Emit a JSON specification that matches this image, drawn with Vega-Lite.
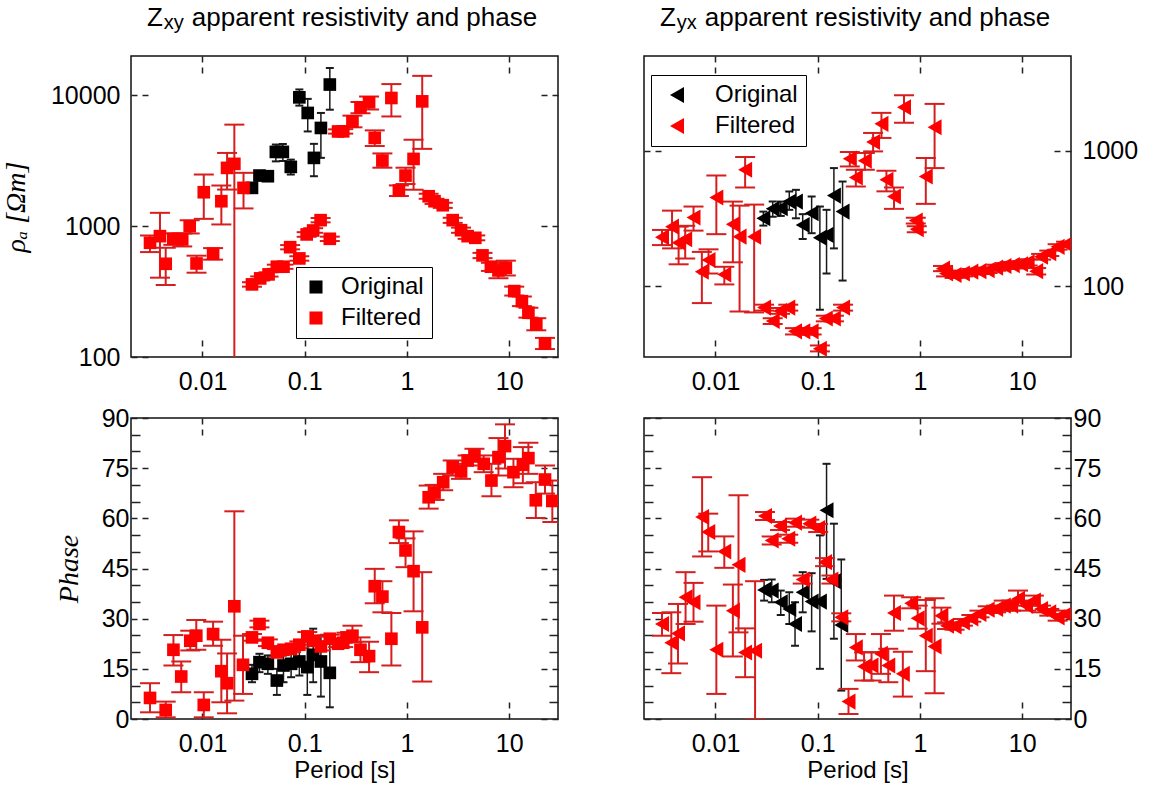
{
  "$schema": "https://vega.github.io/schema/vega-lite/v6.json",
  "padding": {"left": 1, "top": 4, "right": 0, "bottom": 0},
  "bounds": "flush",
  "columns": 2,
  "spacing": {"row": 61, "column": 86},
  "config": {
    "font": "Liberation Sans",
    "view": {"stroke": "#111111", "strokeWidth": 1.5},
    "axis": {
      "domain": false, "grid": false,
      "labelFont": "Liberation Sans", "labelFontSize": 25, "labelColor": "#000000",
      "tickColor": "#222222", "tickWidth": 1.5,
      "titleFont": "Liberation Sans", "titleFontSize": 24, "titleFontWeight": "normal", "titleColor": "#000000",
      "labelFlush": false, "labelOverlap": false
    },
    "title": {"font": "Liberation Sans", "fontSize": 26, "fontWeight": "normal", "color": "#000000", "subtitleFont": "Liberation Sans", "subtitleFontSize": 20, "subtitleColor": "#000000", "anchor": "start", "frame": "group", "dx": 16, "offset": 22, "subtitlePadding": -18}
  },
  "resolve": {"scale": {"color": "independent"}, "legend": {"color": "independent"}},
  "datasets": {
    "rho_xy": [
      {"T": 0.0305, "v": 1963, "lo": 1880, "hi": 2050, "s": "Original"},
      {"T": 0.0361, "v": 2438, "lo": 2340, "hi": 2540, "s": "Original"},
      {"T": 0.0436, "v": 2410, "lo": 2310, "hi": 2510, "s": "Original"},
      {"T": 0.0522, "v": 3698, "lo": 3130, "hi": 4210, "s": "Original"},
      {"T": 0.0611, "v": 3698, "lo": 3150, "hi": 4250, "s": "Original"},
      {"T": 0.0731, "v": 2840, "lo": 2483, "hi": 3228, "s": "Original"},
      {"T": 0.0886, "v": 9660, "lo": 8350, "hi": 11100, "s": "Original"},
      {"T": 0.107, "v": 7340, "lo": 5300, "hi": 9400, "s": "Original"},
      {"T": 0.123, "v": 3327, "lo": 2410, "hi": 4260, "s": "Original"},
      {"T": 0.144, "v": 5636, "lo": 3330, "hi": 7340, "s": "Original"},
      {"T": 0.176, "v": 12100, "lo": 7770, "hi": 16200, "s": "Original"},
      {"T": 0.00307, "v": 747, "lo": 634, "hi": 849, "s": "Filtered"},
      {"T": 0.00384, "v": 839, "lo": 404, "hi": 1265, "s": "Filtered"},
      {"T": 0.00437, "v": 516, "lo": 355, "hi": 684, "s": "Filtered"},
      {"T": 0.00519, "v": 801, "lo": 720, "hi": 880, "s": "Filtered"},
      {"T": 0.00634, "v": 792, "lo": 700, "hi": 880, "s": "Filtered"},
      {"T": 0.0075, "v": 1000, "lo": 880, "hi": 1110, "s": "Filtered"},
      {"T": 0.00875, "v": 519, "lo": 441, "hi": 595, "s": "Filtered"},
      {"T": 0.0103, "v": 1818, "lo": 1138, "hi": 2483, "s": "Filtered"},
      {"T": 0.0127, "v": 615, "lo": 555, "hi": 680, "s": "Filtered"},
      {"T": 0.0153, "v": 1552, "lo": 1031, "hi": 2046, "s": "Filtered"},
      {"T": 0.0174, "v": 2791, "lo": 1905, "hi": 3631, "s": "Filtered"},
      {"T": 0.0205, "v": 2996, "lo": 10, "hi": 5975, "s": "Filtered"},
      {"T": 0.0252, "v": 1963, "lo": 1367, "hi": 2558, "s": "Filtered"},
      {"T": 0.0305, "v": 359, "lo": 345, "hi": 373, "s": "Filtered"},
      {"T": 0.0367, "v": 399, "lo": 385, "hi": 413, "s": "Filtered"},
      {"T": 0.0443, "v": 428, "lo": 412, "hi": 444, "s": "Filtered"},
      {"T": 0.0534, "v": 490, "lo": 472, "hi": 508, "s": "Filtered"},
      {"T": 0.062, "v": 490, "lo": 472, "hi": 508, "s": "Filtered"},
      {"T": 0.072, "v": 691, "lo": 665, "hi": 717, "s": "Filtered"},
      {"T": 0.0886, "v": 567, "lo": 545, "hi": 589, "s": "Filtered"},
      {"T": 0.1045, "v": 865, "lo": 830, "hi": 900, "s": "Filtered"},
      {"T": 0.121, "v": 927, "lo": 890, "hi": 965, "s": "Filtered"},
      {"T": 0.143, "v": 1112, "lo": 1070, "hi": 1155, "s": "Filtered"},
      {"T": 0.176, "v": 801, "lo": 770, "hi": 832, "s": "Filtered"},
      {"T": 0.212, "v": 5300, "lo": 5100, "hi": 5500, "s": "Filtered"},
      {"T": 0.238, "v": 5310, "lo": 5100, "hi": 5520, "s": "Filtered"},
      {"T": 0.293, "v": 6336, "lo": 5700, "hi": 7000, "s": "Filtered"},
      {"T": 0.351, "v": 8100, "lo": 7300, "hi": 8900, "s": "Filtered"},
      {"T": 0.426, "v": 8850, "lo": 7800, "hi": 9800, "s": "Filtered"},
      {"T": 0.484, "v": 4730, "lo": 4100, "hi": 5400, "s": "Filtered"},
      {"T": 0.575, "v": 3175, "lo": 2800, "hi": 3600, "s": "Filtered"},
      {"T": 0.704, "v": 9550, "lo": 6900, "hi": 12200, "s": "Filtered"},
      {"T": 0.834, "v": 1874, "lo": 1700, "hi": 2050, "s": "Filtered"},
      {"T": 0.968, "v": 2438, "lo": 2100, "hi": 2800, "s": "Filtered"},
      {"T": 1.16, "v": 3268, "lo": 1900, "hi": 4580, "s": "Filtered"},
      {"T": 1.41, "v": 9000, "lo": 3900, "hi": 14100, "s": "Filtered"},
      {"T": 1.63, "v": 1694, "lo": 1620, "hi": 1770, "s": "Filtered"},
      {"T": 1.86, "v": 1552, "lo": 1480, "hi": 1620, "s": "Filtered"},
      {"T": 2.24, "v": 1446, "lo": 1380, "hi": 1510, "s": "Filtered"},
      {"T": 2.8, "v": 1112, "lo": 1060, "hi": 1160, "s": "Filtered"},
      {"T": 3.38, "v": 932, "lo": 890, "hi": 975, "s": "Filtered"},
      {"T": 3.92, "v": 839, "lo": 800, "hi": 880, "s": "Filtered"},
      {"T": 4.66, "v": 815, "lo": 780, "hi": 850, "s": "Filtered"},
      {"T": 5.48, "v": 598, "lo": 570, "hi": 625, "s": "Filtered"},
      {"T": 6.62, "v": 490, "lo": 455, "hi": 525, "s": "Filtered"},
      {"T": 7.85, "v": 459, "lo": 400, "hi": 530, "s": "Filtered"},
      {"T": 9.27, "v": 481, "lo": 420, "hi": 545, "s": "Filtered"},
      {"T": 11.2, "v": 319, "lo": 295, "hi": 345, "s": "Filtered"},
      {"T": 13.3, "v": 267, "lo": 245, "hi": 290, "s": "Filtered"},
      {"T": 15.4, "v": 218, "lo": 200, "hi": 238, "s": "Filtered"},
      {"T": 18.4, "v": 178, "lo": 160, "hi": 198, "s": "Filtered"},
      {"T": 22.4, "v": 127, "lo": 115, "hi": 140, "s": "Filtered"}
    ],
    "rho_yx": [
      {"T": 0.0294, "v": 317, "lo": 280, "hi": 355, "s": "Original"},
      {"T": 0.0363, "v": 372, "lo": 326, "hi": 421, "s": "Original"},
      {"T": 0.0435, "v": 376, "lo": 330, "hi": 421, "s": "Original"},
      {"T": 0.0527, "v": 421, "lo": 366, "hi": 500, "s": "Original"},
      {"T": 0.0612, "v": 421, "lo": 317, "hi": 514, "s": "Original"},
      {"T": 0.0713, "v": 283, "lo": 223, "hi": 340, "s": "Original"},
      {"T": 0.0872, "v": 345, "lo": 246, "hi": 459, "s": "Original"},
      {"T": 0.105, "v": 228, "lo": 67, "hi": 387, "s": "Original"},
      {"T": 0.122, "v": 239, "lo": 124, "hi": 366, "s": "Original"},
      {"T": 0.144, "v": 466, "lo": 190, "hi": 744, "s": "Original"},
      {"T": 0.175, "v": 355, "lo": 110, "hi": 592, "s": "Original"},
      {"T": 0.0030, "v": 230, "lo": 201, "hi": 260, "s": "Filtered"},
      {"T": 0.00376, "v": 275, "lo": 190, "hi": 361, "s": "Filtered"},
      {"T": 0.00436, "v": 209, "lo": 145, "hi": 275, "s": "Filtered"},
      {"T": 0.00506, "v": 222, "lo": 160, "hi": 279, "s": "Filtered"},
      {"T": 0.0061, "v": 321, "lo": 257, "hi": 387, "s": "Filtered"},
      {"T": 0.00736, "v": 128, "lo": 75, "hi": 179, "s": "Filtered"},
      {"T": 0.00855, "v": 156, "lo": 124, "hi": 187, "s": "Filtered"},
      {"T": 0.0102, "v": 451, "lo": 242, "hi": 656, "s": "Filtered"},
      {"T": 0.0122, "v": 122, "lo": 103, "hi": 139, "s": "Filtered"},
      {"T": 0.0148, "v": 286, "lo": 150, "hi": 421, "s": "Filtered"},
      {"T": 0.0172, "v": 232, "lo": 65, "hi": 393, "s": "Filtered"},
      {"T": 0.0195, "v": 723, "lo": 535, "hi": 898, "s": "Filtered"},
      {"T": 0.0239, "v": 232, "lo": 64, "hi": 400, "s": "Filtered"},
      {"T": 0.0299, "v": 69.5, "lo": 66, "hi": 73, "s": "Filtered"},
      {"T": 0.0363, "v": 55.3, "lo": 52.5, "hi": 58, "s": "Filtered"},
      {"T": 0.0428, "v": 65.6, "lo": 62.5, "hi": 69, "s": "Filtered"},
      {"T": 0.0515, "v": 69.5, "lo": 66, "hi": 73, "s": "Filtered"},
      {"T": 0.06, "v": 46.4, "lo": 44, "hi": 49, "s": "Filtered"},
      {"T": 0.0723, "v": 46.4, "lo": 44, "hi": 49, "s": "Filtered"},
      {"T": 0.0872, "v": 46.4, "lo": 44, "hi": 49, "s": "Filtered"},
      {"T": 0.105, "v": 34.5, "lo": 33, "hi": 36.5, "s": "Filtered"},
      {"T": 0.12, "v": 57.7, "lo": 55, "hi": 60.5, "s": "Filtered"},
      {"T": 0.144, "v": 57.7, "lo": 55, "hi": 60.5, "s": "Filtered"},
      {"T": 0.177, "v": 69.5, "lo": 66, "hi": 73, "s": "Filtered"},
      {"T": 0.206, "v": 873, "lo": 765, "hi": 978, "s": "Filtered"},
      {"T": 0.236, "v": 634, "lo": 544, "hi": 723, "s": "Filtered"},
      {"T": 0.289, "v": 843, "lo": 723, "hi": 962, "s": "Filtered"},
      {"T": 0.348, "v": 1159, "lo": 988, "hi": 1352, "s": "Filtered"},
      {"T": 0.42, "v": 1578, "lo": 1242, "hi": 1902, "s": "Filtered"},
      {"T": 0.47, "v": 610, "lo": 501, "hi": 711, "s": "Filtered"},
      {"T": 0.557, "v": 459, "lo": 372, "hi": 535, "s": "Filtered"},
      {"T": 0.698, "v": 2094, "lo": 1605, "hi": 2570, "s": "Filtered"},
      {"T": 0.91, "v": 305, "lo": 290, "hi": 320, "s": "Filtered"},
      {"T": 0.93, "v": 263, "lo": 250, "hi": 277, "s": "Filtered"},
      {"T": 1.14, "v": 645, "lo": 405, "hi": 883, "s": "Filtered"},
      {"T": 1.39, "v": 1489, "lo": 744, "hi": 2215, "s": "Filtered"},
      {"T": 1.68, "v": 135, "lo": 129, "hi": 141, "s": "Filtered"},
      {"T": 1.8, "v": 124, "lo": 118, "hi": 130, "s": "Filtered"},
      {"T": 2.18, "v": 121, "lo": 115, "hi": 127, "s": "Filtered"},
      {"T": 2.63, "v": 124, "lo": 118, "hi": 130, "s": "Filtered"},
      {"T": 3.18, "v": 128, "lo": 122, "hi": 134, "s": "Filtered"},
      {"T": 3.82, "v": 129, "lo": 123, "hi": 135, "s": "Filtered"},
      {"T": 4.6, "v": 131, "lo": 125, "hi": 137, "s": "Filtered"},
      {"T": 5.56, "v": 137, "lo": 130, "hi": 144, "s": "Filtered"},
      {"T": 6.7, "v": 141, "lo": 134, "hi": 148, "s": "Filtered"},
      {"T": 8.08, "v": 143, "lo": 135, "hi": 151, "s": "Filtered"},
      {"T": 9.75, "v": 145, "lo": 137, "hi": 153, "s": "Filtered"},
      {"T": 11.3, "v": 150, "lo": 142, "hi": 158, "s": "Filtered"},
      {"T": 13.7, "v": 129, "lo": 122, "hi": 136, "s": "Filtered"},
      {"T": 15.3, "v": 165, "lo": 157, "hi": 173, "s": "Filtered"},
      {"T": 18.4, "v": 175, "lo": 167, "hi": 183, "s": "Filtered"},
      {"T": 22.2, "v": 195, "lo": 186, "hi": 204, "s": "Filtered"},
      {"T": 26.8, "v": 204, "lo": 195, "hi": 213, "s": "Filtered"}
    ],
    "phase_xy": [
      {"T": 0.0305, "v": 13.5, "lo": 11, "hi": 16.2, "s": "Original"},
      {"T": 0.0361, "v": 17, "lo": 14, "hi": 19.5, "s": "Original"},
      {"T": 0.0436, "v": 16.5, "lo": 13.5, "hi": 19, "s": "Original"},
      {"T": 0.0534, "v": 11.5, "lo": 7.2, "hi": 15, "s": "Original"},
      {"T": 0.062, "v": 16, "lo": 11, "hi": 19.5, "s": "Original"},
      {"T": 0.0736, "v": 16.5, "lo": 12.5, "hi": 19.9, "s": "Original"},
      {"T": 0.0886, "v": 17.2, "lo": 13, "hi": 21, "s": "Original"},
      {"T": 0.106, "v": 15.5, "lo": 7.2, "hi": 23.4, "s": "Original"},
      {"T": 0.121, "v": 19.2, "lo": 11, "hi": 27, "s": "Original"},
      {"T": 0.144, "v": 17.2, "lo": 6.7, "hi": 24.9, "s": "Original"},
      {"T": 0.176, "v": 13.8, "lo": 3.5, "hi": 24.9, "s": "Original"},
      {"T": 0.00307, "v": 6.3, "lo": 2.0, "hi": 10.7, "s": "Filtered"},
      {"T": 0.00437, "v": 2.7, "lo": 0.5, "hi": 5.2, "s": "Filtered"},
      {"T": 0.0052, "v": 20.7, "lo": 16, "hi": 25.1, "s": "Filtered"},
      {"T": 0.0062, "v": 12.7, "lo": 8, "hi": 17.2, "s": "Filtered"},
      {"T": 0.0076, "v": 23.4, "lo": 20.5, "hi": 26.4, "s": "Filtered"},
      {"T": 0.0087, "v": 24.9, "lo": 20.7, "hi": 29.6, "s": "Filtered"},
      {"T": 0.0103, "v": 4.2, "lo": 0.5, "hi": 8, "s": "Filtered"},
      {"T": 0.0127, "v": 25.4, "lo": 21.9, "hi": 29.1, "s": "Filtered"},
      {"T": 0.0153, "v": 14.3, "lo": 5, "hi": 23.7, "s": "Filtered"},
      {"T": 0.0174, "v": 10.7, "lo": 1.7, "hi": 19.6, "s": "Filtered"},
      {"T": 0.0205, "v": 33.7, "lo": 5.5, "hi": 62.1, "s": "Filtered"},
      {"T": 0.0249, "v": 16.2, "lo": 7.5, "hi": 24.9, "s": "Filtered"},
      {"T": 0.0305, "v": 24.4, "lo": 23.4, "hi": 25.4, "s": "Filtered"},
      {"T": 0.0361, "v": 28.4, "lo": 27.4, "hi": 29.4, "s": "Filtered"},
      {"T": 0.0436, "v": 22.8, "lo": 21.8, "hi": 23.8, "s": "Filtered"},
      {"T": 0.0534, "v": 19.9, "lo": 18.9, "hi": 20.9, "s": "Filtered"},
      {"T": 0.062, "v": 20.7, "lo": 19.7, "hi": 21.7, "s": "Filtered"},
      {"T": 0.0736, "v": 21, "lo": 20, "hi": 22, "s": "Filtered"},
      {"T": 0.0886, "v": 22.2, "lo": 21.2, "hi": 23.2, "s": "Filtered"},
      {"T": 0.106, "v": 24.7, "lo": 23.5, "hi": 26, "s": "Filtered"},
      {"T": 0.123, "v": 23.4, "lo": 22.2, "hi": 24.6, "s": "Filtered"},
      {"T": 0.144, "v": 21.7, "lo": 20.5, "hi": 22.9, "s": "Filtered"},
      {"T": 0.176, "v": 24, "lo": 22.8, "hi": 25.2, "s": "Filtered"},
      {"T": 0.212, "v": 22.5, "lo": 21.5, "hi": 23.5, "s": "Filtered"},
      {"T": 0.238, "v": 22.8, "lo": 21.5, "hi": 24, "s": "Filtered"},
      {"T": 0.256, "v": 24.4, "lo": 23, "hi": 25.8, "s": "Filtered"},
      {"T": 0.293, "v": 24.9, "lo": 22.9, "hi": 27.9, "s": "Filtered"},
      {"T": 0.351, "v": 20.7, "lo": 17, "hi": 24.4, "s": "Filtered"},
      {"T": 0.426, "v": 18.8, "lo": 14, "hi": 23.1, "s": "Filtered"},
      {"T": 0.484, "v": 39.7, "lo": 34.6, "hi": 44.9, "s": "Filtered"},
      {"T": 0.575, "v": 36.6, "lo": 31.9, "hi": 41.2, "s": "Filtered"},
      {"T": 0.704, "v": 24, "lo": 16, "hi": 31.7, "s": "Filtered"},
      {"T": 0.834, "v": 55.9, "lo": 52.6, "hi": 59.4, "s": "Filtered"},
      {"T": 0.968, "v": 50.4, "lo": 45.4, "hi": 54, "s": "Filtered"},
      {"T": 1.16, "v": 44.2, "lo": 32.2, "hi": 56.1, "s": "Filtered"},
      {"T": 1.41, "v": 27.4, "lo": 11.2, "hi": 43.9, "s": "Filtered"},
      {"T": 1.63, "v": 66.3, "lo": 62.9, "hi": 69.8, "s": "Filtered"},
      {"T": 1.86, "v": 67.7, "lo": 65.5, "hi": 70, "s": "Filtered"},
      {"T": 2.26, "v": 70.8, "lo": 68.4, "hi": 73.3, "s": "Filtered"},
      {"T": 2.8, "v": 75.3, "lo": 72.8, "hi": 77.3, "s": "Filtered"},
      {"T": 3.38, "v": 74, "lo": 71.8, "hi": 76.3, "s": "Filtered"},
      {"T": 3.92, "v": 77.3, "lo": 75.8, "hi": 78.8, "s": "Filtered"},
      {"T": 4.57, "v": 78.8, "lo": 76.9, "hi": 80.8, "s": "Filtered"},
      {"T": 5.63, "v": 76.3, "lo": 73.8, "hi": 78.8, "s": "Filtered"},
      {"T": 6.7, "v": 71.3, "lo": 66.6, "hi": 76.3, "s": "Filtered"},
      {"T": 7.85, "v": 78.3, "lo": 72.8, "hi": 84, "s": "Filtered"},
      {"T": 9.1, "v": 81.6, "lo": 74.9, "hi": 88.1, "s": "Filtered"},
      {"T": 11.0, "v": 73.8, "lo": 69.3, "hi": 77.8, "s": "Filtered"},
      {"T": 13.6, "v": 76, "lo": 70.5, "hi": 81.3, "s": "Filtered"},
      {"T": 15.4, "v": 78, "lo": 73.3, "hi": 82.6, "s": "Filtered"},
      {"T": 18.2, "v": 65.4, "lo": 60.1, "hi": 70.8, "s": "Filtered"},
      {"T": 22.4, "v": 71.6, "lo": 67.4, "hi": 75.8, "s": "Filtered"},
      {"T": 26.4, "v": 65.2, "lo": 58.9, "hi": 71.3, "s": "Filtered"}
    ],
    "phase_yx": [
      {"T": 0.0299, "v": 38.6, "lo": 35.4, "hi": 41.6, "s": "Original"},
      {"T": 0.0355, "v": 38.4, "lo": 34.9, "hi": 41.7, "s": "Original"},
      {"T": 0.0435, "v": 34.9, "lo": 31.1, "hi": 38.4, "s": "Original"},
      {"T": 0.0527, "v": 32.9, "lo": 28.4, "hi": 37.9, "s": "Original"},
      {"T": 0.06, "v": 28.4, "lo": 21.9, "hi": 34.9, "s": "Original"},
      {"T": 0.0713, "v": 37.9, "lo": 31.9, "hi": 43.9, "s": "Original"},
      {"T": 0.0872, "v": 35.1, "lo": 26.2, "hi": 43.6, "s": "Original"},
      {"T": 0.105, "v": 35.1, "lo": 15, "hi": 54.9, "s": "Original"},
      {"T": 0.122, "v": 62.4, "lo": 41.9, "hi": 76.3, "s": "Original"},
      {"T": 0.144, "v": 41.2, "lo": 24, "hi": 58.4, "s": "Original"},
      {"T": 0.17, "v": 28.1, "lo": 8.5, "hi": 47.7, "s": "Original"},
      {"T": 0.0030, "v": 28.4, "lo": 24.9, "hi": 31.7, "s": "Filtered"},
      {"T": 0.0037, "v": 22.8, "lo": 13.7, "hi": 31.9, "s": "Filtered"},
      {"T": 0.0043, "v": 25.6, "lo": 16.6, "hi": 34.4, "s": "Filtered"},
      {"T": 0.0051, "v": 36.4, "lo": 28.4, "hi": 43.9, "s": "Filtered"},
      {"T": 0.0061, "v": 34.9, "lo": 29.1, "hi": 40.7, "s": "Filtered"},
      {"T": 0.0074, "v": 60.4, "lo": 48.6, "hi": 72.3, "s": "Filtered"},
      {"T": 0.0085, "v": 55.9, "lo": 50.1, "hi": 61.4, "s": "Filtered"},
      {"T": 0.0102, "v": 20.7, "lo": 7.5, "hi": 33.9, "s": "Filtered"},
      {"T": 0.0122, "v": 50.1, "lo": 45.2, "hi": 54.6, "s": "Filtered"},
      {"T": 0.0148, "v": 32.4, "lo": 18.7, "hi": 40.2, "s": "Filtered"},
      {"T": 0.0168, "v": 46.1, "lo": 25.9, "hi": 66.9, "s": "Filtered"},
      {"T": 0.0195, "v": 19.9, "lo": 12.5, "hi": 27.1, "s": "Filtered"},
      {"T": 0.0244, "v": 20.4, "lo": 0, "hi": 41.2, "s": "Filtered"},
      {"T": 0.0305, "v": 60.7, "lo": 59.5, "hi": 61.9, "s": "Filtered"},
      {"T": 0.0355, "v": 53.4, "lo": 52.2, "hi": 54.6, "s": "Filtered"},
      {"T": 0.0428, "v": 57.7, "lo": 56.5, "hi": 58.9, "s": "Filtered"},
      {"T": 0.0515, "v": 53.9, "lo": 52.7, "hi": 55.1, "s": "Filtered"},
      {"T": 0.06, "v": 58.7, "lo": 57.5, "hi": 59.9, "s": "Filtered"},
      {"T": 0.0713, "v": 41.7, "lo": 40.5, "hi": 42.9, "s": "Filtered"},
      {"T": 0.0828, "v": 58.4, "lo": 57.2, "hi": 59.6, "s": "Filtered"},
      {"T": 0.101, "v": 57.1, "lo": 55.9, "hi": 58.3, "s": "Filtered"},
      {"T": 0.118, "v": 46.9, "lo": 45.7, "hi": 48.1, "s": "Filtered"},
      {"T": 0.136, "v": 41.7, "lo": 40.5, "hi": 42.9, "s": "Filtered"},
      {"T": 0.17, "v": 30.4, "lo": 29.2, "hi": 31.6, "s": "Filtered"},
      {"T": 0.2, "v": 5.2, "lo": 1.5, "hi": 9, "s": "Filtered"},
      {"T": 0.236, "v": 21.4, "lo": 17.5, "hi": 25.4, "s": "Filtered"},
      {"T": 0.284, "v": 15.7, "lo": 11.5, "hi": 19.9, "s": "Filtered"},
      {"T": 0.336, "v": 16, "lo": 11.5, "hi": 20, "s": "Filtered"},
      {"T": 0.415, "v": 19.5, "lo": 13.5, "hi": 25.4, "s": "Filtered"},
      {"T": 0.49, "v": 16, "lo": 11, "hi": 21, "s": "Filtered"},
      {"T": 0.557, "v": 31.7, "lo": 26.4, "hi": 36.9, "s": "Filtered"},
      {"T": 0.68, "v": 13.5, "lo": 6.7, "hi": 20.1, "s": "Filtered"},
      {"T": 0.82, "v": 34.6, "lo": 33.1, "hi": 36.4, "s": "Filtered"},
      {"T": 0.95, "v": 30.1, "lo": 27, "hi": 33.9, "s": "Filtered"},
      {"T": 1.14, "v": 24.9, "lo": 14.3, "hi": 35.6, "s": "Filtered"},
      {"T": 1.39, "v": 21.7, "lo": 7.7, "hi": 36.1, "s": "Filtered"},
      {"T": 1.62, "v": 30.9, "lo": 28.5, "hi": 33.3, "s": "Filtered"},
      {"T": 1.84, "v": 27.9, "lo": 26.9, "hi": 28.9, "s": "Filtered"},
      {"T": 2.18, "v": 27.7, "lo": 26.7, "hi": 28.7, "s": "Filtered"},
      {"T": 2.63, "v": 28.9, "lo": 27.9, "hi": 29.9, "s": "Filtered"},
      {"T": 3.18, "v": 30.1, "lo": 29.1, "hi": 31.1, "s": "Filtered"},
      {"T": 3.82, "v": 31.4, "lo": 30.4, "hi": 32.4, "s": "Filtered"},
      {"T": 4.6, "v": 32.7, "lo": 31.7, "hi": 33.7, "s": "Filtered"},
      {"T": 5.56, "v": 32.9, "lo": 31.9, "hi": 33.9, "s": "Filtered"},
      {"T": 6.6, "v": 33.9, "lo": 32.4, "hi": 35.4, "s": "Filtered"},
      {"T": 7.8, "v": 33.9, "lo": 32.4, "hi": 35.4, "s": "Filtered"},
      {"T": 9.1, "v": 35.9, "lo": 33.9, "hi": 38.4, "s": "Filtered"},
      {"T": 10.9, "v": 33.9, "lo": 32.4, "hi": 35.4, "s": "Filtered"},
      {"T": 13, "v": 35.4, "lo": 33.9, "hi": 36.9, "s": "Filtered"},
      {"T": 15.3, "v": 32.9, "lo": 31.9, "hi": 33.9, "s": "Filtered"},
      {"T": 18.4, "v": 31.9, "lo": 30.9, "hi": 32.9, "s": "Filtered"},
      {"T": 22.2, "v": 30.4, "lo": 29.4, "hi": 31.4, "s": "Filtered"},
      {"T": 26.8, "v": 31.4, "lo": 30.4, "hi": 32.4, "s": "Filtered"}
    ]
  },
  "concat": [
    {
      "width": 427, "height": 301,
      "title": {"text": "Z\u00a0\u00a0\u00a0\u00a0apparent resistivity and phase", "subtitle": "\u200b\u00a0\u00a0\u00a0xy"},
      "data": {"name": "rho_xy"},
      "resolve": {"axis": {"x": "independent", "y": "independent"}},
      "layer": [
        {
          "mark": {"type": "rule", "clip": true},
          "encoding": {
            "x": {"field": "T", "type": "quantitative", "scale": {"type": "log", "domain": [0.002, 30], "nice": false},
                  "axis": {"orient": "bottom", "values": [0.01, 0.1, 1, 10], "format": "~g", "tickSize": -17, "tickDash": [6, 5], "labelPadding": 29, "title": null}},
            "y": {"field": "lo", "type": "quantitative", "scale": {"type": "log", "domain": [100, 20000], "nice": false},
                  "axis": {"orient": "left", "values": [100, 1000, 10000], "format": "d", "tickSize": -17, "tickDash": [6, 5], "labelPadding": 28,
                           "title": "ρₐ [Ωm]", "titleFont": "Liberation Serif", "titleFontStyle": "italic", "titleFontSize": 28, "titlePadding": 20}},
            "y2": {"field": "hi"},
            "color": {"condition": {"test": "datum.s === 'Original'", "value": "#1a1a1a"}, "value": "#d61e1e"},
            "strokeWidth": {"condition": {"test": "datum.s === 'Original'", "value": 1.5}, "value": 2}
          }
        },
        {
          "mark": {"type": "tick", "orient": "horizontal", "clip": true, "thickness": 2, "opacity": 1},
          "encoding": {
            "x": {"field": "T", "type": "quantitative", "scale": {"type": "log", "domain": [0.002, 30], "nice": false},
                  "axis": {"orient": "top", "values": [0.01, 0.1, 1, 10], "labels": false, "tickSize": -17, "tickDash": [6, 5], "title": null}},
            "y": {"field": "lo", "type": "quantitative", "scale": {"type": "log", "domain": [100, 20000], "nice": false},
                  "axis": {"orient": "right", "values": [100, 1000, 10000], "labels": false, "tickSize": -17, "tickDash": [6, 5], "title": null}},
            "size": {"condition": {"test": "datum.s === 'Original'", "value": 8}, "value": 20},
            "color": {"condition": {"test": "datum.s === 'Original'", "value": "#1a1a1a"}, "value": "#d61e1e"}
          }
        },
        {
          "mark": {"type": "tick", "orient": "horizontal", "clip": true, "thickness": 2, "opacity": 1},
          "encoding": {
            "x": {"field": "T", "type": "quantitative", "scale": {"type": "log", "domain": [0.002, 30], "nice": false}, "axis": null},
            "y": {"field": "hi", "type": "quantitative", "scale": {"type": "log", "domain": [100, 20000], "nice": false}, "axis": null},
            "size": {"condition": {"test": "datum.s === 'Original'", "value": 8}, "value": 20},
            "color": {"condition": {"test": "datum.s === 'Original'", "value": "#1a1a1a"}, "value": "#d61e1e"}
          }
        },
        {
          "mark": {"type": "square", "size": 160, "opacity": 1, "clip": true},
          "encoding": {
            "x": {"field": "T", "type": "quantitative", "scale": {"type": "log", "domain": [0.002, 30], "nice": false}, "axis": null},
            "y": {"field": "v", "type": "quantitative", "scale": {"type": "log", "domain": [100, 20000], "nice": false}, "axis": null},
            "color": {"field": "s", "type": "nominal", "scale": {"domain": ["Original", "Filtered"], "range": ["#000000", "#ff0000"]},
                      "legend": {"title": null, "orient": "none", "legendX": 165, "legendY": 211, "padding": 8, "strokeColor": "#000000", "fillColor": "#ffffff",
                                 "labelFont": "Liberation Sans", "labelFontSize": 24, "labelColor": "#000000", "labelOffset": 13, "rowPadding": 7,
                                 "symbolSize": 170, "symbolType": "square", "symbolStrokeWidth": 0, "symbolOpacity": 1}}
          }
        }
      ]
    },
    {
      "width": 427, "height": 301,
      "title": {"text": "Z\u00a0\u00a0\u00a0\u00a0apparent resistivity and phase", "subtitle": "\u200b\u00a0\u00a0\u00a0yx"},
      "data": {"name": "rho_yx"},
      "resolve": {"axis": {"x": "independent", "y": "independent"}},
      "layer": [
        {
          "mark": {"type": "rule", "clip": true},
          "encoding": {
            "x": {"field": "T", "type": "quantitative", "scale": {"type": "log", "domain": [0.002, 30], "nice": false},
                  "axis": {"orient": "bottom", "values": [0.01, 0.1, 1, 10], "format": "~g", "tickSize": -17, "tickDash": [6, 5], "labelPadding": 29, "title": null}},
            "y": {"field": "lo", "type": "quantitative", "scale": {"type": "log", "domain": [30, 5000], "nice": false},
                  "axis": {"orient": "right", "values": [100, 1000], "format": "d", "tickSize": -17, "tickDash": [6, 5], "labelPadding": 28, "title": null}},
            "y2": {"field": "hi"},
            "color": {"condition": {"test": "datum.s === 'Original'", "value": "#1a1a1a"}, "value": "#d61e1e"},
            "strokeWidth": {"condition": {"test": "datum.s === 'Original'", "value": 1.5}, "value": 2}
          }
        },
        {
          "mark": {"type": "tick", "orient": "horizontal", "clip": true, "thickness": 2, "opacity": 1},
          "encoding": {
            "x": {"field": "T", "type": "quantitative", "scale": {"type": "log", "domain": [0.002, 30], "nice": false},
                  "axis": {"orient": "top", "values": [0.01, 0.1, 1, 10], "labels": false, "tickSize": -17, "tickDash": [6, 5], "title": null}},
            "y": {"field": "lo", "type": "quantitative", "scale": {"type": "log", "domain": [30, 5000], "nice": false},
                  "axis": {"orient": "left", "values": [100, 1000], "labels": false, "tickSize": -17, "tickDash": [6, 5], "title": null}},
            "size": {"condition": {"test": "datum.s === 'Original'", "value": 8}, "value": 20},
            "color": {"condition": {"test": "datum.s === 'Original'", "value": "#1a1a1a"}, "value": "#d61e1e"}
          }
        },
        {
          "mark": {"type": "tick", "orient": "horizontal", "clip": true, "thickness": 2, "opacity": 1},
          "encoding": {
            "x": {"field": "T", "type": "quantitative", "scale": {"type": "log", "domain": [0.002, 30], "nice": false}, "axis": null},
            "y": {"field": "hi", "type": "quantitative", "scale": {"type": "log", "domain": [30, 5000], "nice": false}, "axis": null},
            "size": {"condition": {"test": "datum.s === 'Original'", "value": 8}, "value": 20},
            "color": {"condition": {"test": "datum.s === 'Original'", "value": "#1a1a1a"}, "value": "#d61e1e"}
          }
        },
        {
          "mark": {"type": "point", "shape": "triangle-left", "filled": true, "size": 260, "opacity": 1, "strokeWidth": 0, "clip": true},
          "encoding": {
            "x": {"field": "T", "type": "quantitative", "scale": {"type": "log", "domain": [0.002, 30], "nice": false}, "axis": null},
            "y": {"field": "v", "type": "quantitative", "scale": {"type": "log", "domain": [30, 5000], "nice": false}, "axis": null},
            "color": {"field": "s", "type": "nominal", "scale": {"domain": ["Original", "Filtered"], "range": ["#000000", "#ff0000"]},
                      "legend": {"title": null, "orient": "none", "legendX": 7, "legendY": 19, "padding": 8, "symbolOffset": 6, "strokeColor": "#000000", "fillColor": "#ffffff",
                                 "labelFont": "Liberation Sans", "labelFontSize": 24, "labelColor": "#000000", "labelOffset": 26, "rowPadding": 7,
                                 "symbolSize": 260, "symbolType": "triangle-left", "symbolStrokeWidth": 0, "symbolOpacity": 1}}
          }
        }
      ]
    },
    {
      "width": 427, "height": 301,
      "data": {"name": "phase_xy"},
      "resolve": {"axis": {"x": "independent", "y": "independent"}},
      "layer": [
        {
          "mark": {"type": "rule", "clip": true},
          "encoding": {
            "x": {"field": "T", "type": "quantitative", "scale": {"type": "log", "domain": [0.002, 30], "nice": false},
                  "axis": {"orient": "bottom", "values": [0.01, 0.1, 1, 10], "format": "~g", "tickSize": -17, "tickDash": [6, 5], "labelPadding": 29, "title": "Period [s]", "titlePadding": 2}},
            "y": {"field": "lo", "type": "quantitative", "scale": {"domain": [0, 90], "nice": false, "zero": false},
                  "axis": {"orient": "left", "values": [0, 5, 10, 15, 20, 25, 30, 35, 40, 45, 50, 55, 60, 65, 70, 75, 80, 85, 90],
                           "labelExpr": "datum.value % 15 === 0 ? datum.label : ''",
                           "tickSize": {"condition": {"test": "datum.value % 15 === 0", "value": -17}, "value": -9},
                           "tickDash": {"condition": {"test": "datum.value % 15 === 0", "value": [6, 5]}, "value": []},
                           "labelPadding": 19,
                           "title": "Phase", "titleFont": "Liberation Serif", "titleFontStyle": "italic", "titleFontSize": 28, "titlePadding": 18}},
            "y2": {"field": "hi"},
            "color": {"condition": {"test": "datum.s === 'Original'", "value": "#1a1a1a"}, "value": "#d61e1e"},
            "strokeWidth": {"condition": {"test": "datum.s === 'Original'", "value": 1.5}, "value": 2}
          }
        },
        {
          "mark": {"type": "tick", "orient": "horizontal", "clip": true, "thickness": 2, "opacity": 1},
          "encoding": {
            "x": {"field": "T", "type": "quantitative", "scale": {"type": "log", "domain": [0.002, 30], "nice": false},
                  "axis": {"orient": "top", "values": [0.01, 0.1, 1, 10], "labels": false, "tickSize": -17, "tickDash": [6, 5], "title": null}},
            "y": {"field": "lo", "type": "quantitative", "scale": {"domain": [0, 90], "nice": false, "zero": false},
                  "axis": {"orient": "right", "values": [0, 5, 10, 15, 20, 25, 30, 35, 40, 45, 50, 55, 60, 65, 70, 75, 80, 85, 90], "labels": false,
                           "tickSize": {"condition": {"test": "datum.value % 15 === 0", "value": -17}, "value": -9},
                           "tickDash": {"condition": {"test": "datum.value % 15 === 0", "value": [6, 5]}, "value": []},
                           "title": null}},
            "size": {"condition": {"test": "datum.s === 'Original'", "value": 8}, "value": 20},
            "color": {"condition": {"test": "datum.s === 'Original'", "value": "#1a1a1a"}, "value": "#d61e1e"}
          }
        },
        {
          "mark": {"type": "tick", "orient": "horizontal", "clip": true, "thickness": 2, "opacity": 1},
          "encoding": {
            "x": {"field": "T", "type": "quantitative", "scale": {"type": "log", "domain": [0.002, 30], "nice": false}, "axis": null},
            "y": {"field": "hi", "type": "quantitative", "scale": {"domain": [0, 90], "nice": false, "zero": false}, "axis": null},
            "size": {"condition": {"test": "datum.s === 'Original'", "value": 8}, "value": 20},
            "color": {"condition": {"test": "datum.s === 'Original'", "value": "#1a1a1a"}, "value": "#d61e1e"}
          }
        },
        {
          "mark": {"type": "square", "size": 160, "opacity": 1, "clip": true},
          "encoding": {
            "x": {"field": "T", "type": "quantitative", "scale": {"type": "log", "domain": [0.002, 30], "nice": false}, "axis": null},
            "y": {"field": "v", "type": "quantitative", "scale": {"domain": [0, 90], "nice": false, "zero": false}, "axis": null},
            "color": {"field": "s", "type": "nominal", "scale": {"domain": ["Original", "Filtered"], "range": ["#000000", "#ff0000"]}, "legend": null}
          }
        }
      ]
    },
    {
      "width": 427, "height": 301,
      "data": {"name": "phase_yx"},
      "resolve": {"axis": {"x": "independent", "y": "independent"}},
      "layer": [
        {
          "mark": {"type": "rule", "clip": true},
          "encoding": {
            "x": {"field": "T", "type": "quantitative", "scale": {"type": "log", "domain": [0.002, 30], "nice": false},
                  "axis": {"orient": "bottom", "values": [0.01, 0.1, 1, 10], "format": "~g", "tickSize": -17, "tickDash": [6, 5], "labelPadding": 29, "title": "Period [s]", "titlePadding": 2}},
            "y": {"field": "lo", "type": "quantitative", "scale": {"domain": [0, 90], "nice": false, "zero": false},
                  "axis": {"orient": "right", "values": [0, 5, 10, 15, 20, 25, 30, 35, 40, 45, 50, 55, 60, 65, 70, 75, 80, 85, 90],
                           "labelExpr": "datum.value % 15 === 0 ? datum.label : ''",
                           "tickSize": {"condition": {"test": "datum.value % 15 === 0", "value": -17}, "value": -9},
                           "tickDash": {"condition": {"test": "datum.value % 15 === 0", "value": [6, 5]}, "value": []},
                           "labelPadding": 19, "title": null}},
            "y2": {"field": "hi"},
            "color": {"condition": {"test": "datum.s === 'Original'", "value": "#1a1a1a"}, "value": "#d61e1e"},
            "strokeWidth": {"condition": {"test": "datum.s === 'Original'", "value": 1.5}, "value": 2}
          }
        },
        {
          "mark": {"type": "tick", "orient": "horizontal", "clip": true, "thickness": 2, "opacity": 1},
          "encoding": {
            "x": {"field": "T", "type": "quantitative", "scale": {"type": "log", "domain": [0.002, 30], "nice": false},
                  "axis": {"orient": "top", "values": [0.01, 0.1, 1, 10], "labels": false, "tickSize": -17, "tickDash": [6, 5], "title": null}},
            "y": {"field": "lo", "type": "quantitative", "scale": {"domain": [0, 90], "nice": false, "zero": false},
                  "axis": {"orient": "left", "values": [0, 5, 10, 15, 20, 25, 30, 35, 40, 45, 50, 55, 60, 65, 70, 75, 80, 85, 90], "labels": false,
                           "tickSize": {"condition": {"test": "datum.value % 15 === 0", "value": -17}, "value": -9},
                           "tickDash": {"condition": {"test": "datum.value % 15 === 0", "value": [6, 5]}, "value": []},
                           "title": null}},
            "size": {"condition": {"test": "datum.s === 'Original'", "value": 8}, "value": 20},
            "color": {"condition": {"test": "datum.s === 'Original'", "value": "#1a1a1a"}, "value": "#d61e1e"}
          }
        },
        {
          "mark": {"type": "tick", "orient": "horizontal", "clip": true, "thickness": 2, "opacity": 1},
          "encoding": {
            "x": {"field": "T", "type": "quantitative", "scale": {"type": "log", "domain": [0.002, 30], "nice": false}, "axis": null},
            "y": {"field": "hi", "type": "quantitative", "scale": {"domain": [0, 90], "nice": false, "zero": false}, "axis": null},
            "size": {"condition": {"test": "datum.s === 'Original'", "value": 8}, "value": 20},
            "color": {"condition": {"test": "datum.s === 'Original'", "value": "#1a1a1a"}, "value": "#d61e1e"}
          }
        },
        {
          "mark": {"type": "point", "shape": "triangle-left", "filled": true, "size": 260, "opacity": 1, "strokeWidth": 0, "clip": true},
          "encoding": {
            "x": {"field": "T", "type": "quantitative", "scale": {"type": "log", "domain": [0.002, 30], "nice": false}, "axis": null},
            "y": {"field": "v", "type": "quantitative", "scale": {"domain": [0, 90], "nice": false, "zero": false}, "axis": null},
            "color": {"field": "s", "type": "nominal", "scale": {"domain": ["Original", "Filtered"], "range": ["#000000", "#ff0000"]}, "legend": null}
          }
        }
      ]
    }
  ]
}
